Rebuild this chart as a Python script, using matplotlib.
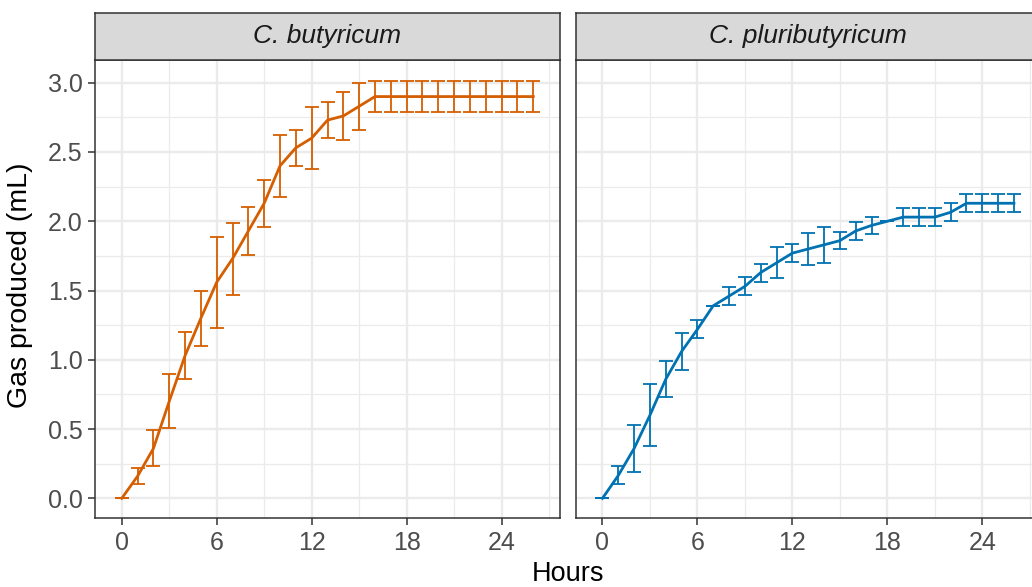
import numpy as np
import matplotlib
matplotlib.use("Agg")
import matplotlib.pyplot as plt

plt.rcParams['font.family'] = ['Liberation Sans', 'DejaVu Sans']

hours = np.arange(0, 27)

# C. butyricum
but_mean = [0, 0.16, 0.36, 0.70, 1.03, 1.30, 1.56, 1.73, 1.93, 2.13, 2.40,
            2.53, 2.60, 2.73, 2.76, 2.83, 2.90, 2.90, 2.90, 2.90, 2.90,
            2.90, 2.90, 2.90, 2.90, 2.90, 2.90]
but_sd = [0, 0.06, 0.13, 0.195, 0.17, 0.20, 0.33, 0.26, 0.17, 0.17, 0.225,
          0.13, 0.225, 0.13, 0.17, 0.17, 0.11, 0.11, 0.11, 0.11, 0.11,
          0.11, 0.11, 0.11, 0.11, 0.11, 0.11]

# C. pluributyricum
plu_mean = [0, 0.165, 0.36, 0.60, 0.86, 1.06, 1.22, 1.39, 1.46, 1.53, 1.63,
            1.70, 1.77, 1.80, 1.83, 1.86, 1.93, 1.97, 2.00, 2.03, 2.03,
            2.03, 2.065, 2.13, 2.13, 2.13, 2.13]
plu_sd = [0, 0.065, 0.17, 0.225, 0.13, 0.13, 0.065, 0.0, 0.068, 0.065, 0.065,
          0.113, 0.065, 0.113, 0.13, 0.063, 0.063, 0.063, 0.0, 0.065, 0.065,
          0.065, 0.065, 0.065, 0.065, 0.065, 0.065]

panels = [("C. butyricum", but_mean, but_sd, "#D55E00"),
          ("C. pluributyricum", plu_mean, plu_sd, "#0072B2")]

W, H = 1032, 587
fig = plt.figure(figsize=(W / 100, H / 100), dpi=100)

pw = 465
lefts = [95, 575.7]
bottom, top = 518.3, 60
strip_top = 12.7

for i, (name, mean, sd, col) in enumerate(panels):
    ax = fig.add_axes([lefts[i] / W, 1 - bottom / H, pw / W, (bottom - top) / H])
    ax.errorbar(hours, mean, yerr=sd, color=col, lw=2.0, elinewidth=1.3,
                capsize=4.8, capthick=1.3, zorder=3)
    ax.set_xlim(-1.69, 27.69)
    ax.set_ylim(-0.144, 3.164)
    ax.set_xticks([0, 6, 12, 18, 24])
    ax.set_xticks([3, 9, 15, 21, 27], minor=True)
    ax.set_yticks([0, 0.5, 1, 1.5, 2, 2.5, 3])
    ax.set_yticks(np.arange(0.25, 3.0, 0.5), minor=True)
    ax.grid(which='major', color='#EBEBEB', lw=1.7, zorder=0)
    ax.grid(which='minor', color='#EBEBEB', lw=0.9, zorder=0)
    ax.set_axisbelow(True)
    for s in ax.spines.values():
        s.set_color('#333333')
        s.set_linewidth(1.1)
    ax.tick_params(which='major', length=5, width=1.1, color='#333333',
                   labelsize=18, labelcolor='#4D4D4D', pad=4)
    ax.tick_params(which='minor', length=0)
    if i == 0:
        ax.set_yticklabels(['0.0', '0.5', '1.0', '1.5', '2.0', '2.5', '3.0'])
    else:
        ax.tick_params(axis='y', which='both', left=False, labelleft=False)

    sax = fig.add_axes([lefts[i] / W, 1 - top / H, pw / W, (top - strip_top) / H])
    sax.set_facecolor('#D9D9D9')
    sax.set_xticks([])
    sax.set_yticks([])
    for s in sax.spines.values():
        s.set_color('#333333')
        s.set_linewidth(1.1)
    sax.text(0.5, 0.5, name, transform=sax.transAxes, ha='center', va='center',
             fontsize=19, style='italic', color='#1A1A1A')

fig.text(20 / W, 1 - 285 / H, 'Gas produced (mL)', rotation=90, ha='center',
         va='center', fontsize=20.5)
fig.text(567.5 / W, 1 - 574 / H, 'Hours', ha='center', va='center', fontsize=19.5)

fig.savefig('out.png', dpi=100)
